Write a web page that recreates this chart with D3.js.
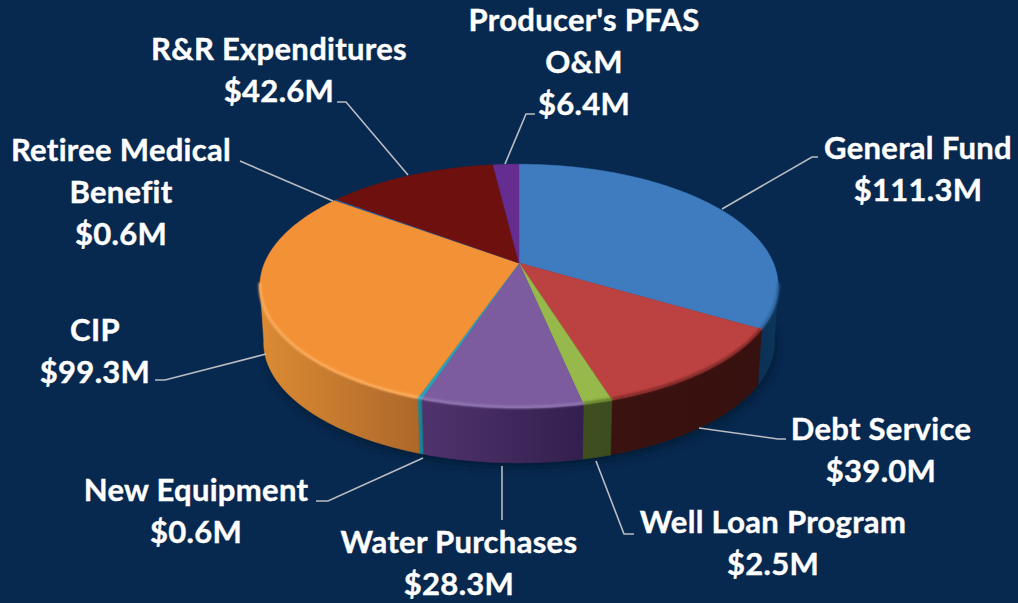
<!DOCTYPE html>
<html><head><meta charset="utf-8">
<script src="https://cdnjs.cloudflare.com/ajax/libs/d3/7.8.5/d3.min.js"></script>
<style>html,body{margin:0;padding:0;background:#08294f}svg{display:block}</style></head>
<body><svg id="c" width="1018" height="603"></svg>
<script>
const categories=["General Fund","Debt Service","Well Loan Program","Water Purchases","New Equipment","CIP","Retiree Medical Benefit","R&R Expenditures","Producer's PFAS O&M"];
const valueLabels=["$111.3M","$39.0M","$2.5M","$28.3M","$0.6M","$99.3M","$0.6M","$42.6M","$6.4M"];
// slice sizes as they are drawn in the picture (estimated from the slice edges, $M)
const values=[110.7,38.6,5.05,27.7,0.73,98.5,0.55,42.3,6.4];
const topColors=["#3f7cbf","#bb4240","#97b84a","#7c5c9e","#2ca1b8","#f39136","#2f5f9c","#6e100e","#652d8f"];
const wallLeft=["#0b3154","#3a1210","#3f4f20","#50336c","#1d8a9c","#dc8b33","#1d3f70","#3a0a08","#3a1a50"];
const wallRight=["#0d365c","#37110f","#3d4c1f","#331f4f","#1a8090","#ad682a","#1d3f70","#3a0a08","#3a1a50"];
const bevel=["#2a5f96","#7c2826","#5d7a2a","#9379b4","#40bcd2","#fdb163","#2f5f9c","#6e100e","#652d8f"];
const labelLines=[["General Fund"],["Debt Service"],["Well Loan Program"],["Water Purchases"],["New Equipment"],["CIP"],["Retiree Medical","Benefit"],["R&R Expenditures"],["Producer's PFAS","O&M"]];
const labelX=[918,881,773,459,196,95,121,279,584];
const labelY=[149,430,523,543,491,331,151,50,21];
const leaders=[[[722,209],[812,157],[818,157]],[[699,428],[778,439],[786,439]],[[596,461],[624,534],[634,534]],[[502,466],[502,520]],[[423,458],[328,501],[316,501]],[[266,354],[165,380],[155,380]],[[333,201],[240,161]],[[408,175],[346,102],[337,102]],[[505,164],[526,114],[535,114]]];

const svg=d3.select("#c");
const W=1018,H=603;
svg.append("rect").attr("width",W).attr("height",H).attr("fill","#08294f");
const defs=svg.append("defs");
defs.append("filter").attr("id","blur").attr("x","-20%").attr("y","-20%").attr("width","140%").attr("height","140%")
  .append("feGaussianBlur").attr("stdDeviation",4);
defs.append("filter").attr("id","soft").attr("x","-5%").attr("y","-5%").attr("width","110%").attr("height","110%")
  .append("feGaussianBlur").attr("stdDeviation",1);

const Ax=519,Ay=263,Rx=254.4,Ry=117.5,k=0.19,depth=57,bottomScale=0.985,bottomYScale=0.985;
function proj(a,r=1){const x=Math.sin(a)*r,z=-Math.cos(a)*r,w=1-k*z;return [Ax+Rx*x/w,Ay+Ry*z/w];}
function projB(a,r=1){const p=proj(a,r);return [Ax+(p[0]-Ax)*bottomScale,Ay+depth+(p[1]-Ay)*bottomYScale];}
const pie=d3.pie().sort(null).value(d=>d)(values);
const line=d3.line();
const visible=a=>-Math.cos(a)>k-0.02;
function samples(s,e){const n=Math.max(2,Math.ceil((e-s)/0.01));return d3.range(n+1).map(i=>s+(e-s)*i/n);}

const allA=samples(0,2*Math.PI);
svg.append("path").attr("d",line(allA.map(a=>{const p=projB(a);return [p[0]+2,p[1]+5];}))+"Z")
  .attr("fill","#031a35").attr("opacity",0.85).attr("filter","url(#blur)");

const walls=svg.append("g");
pie.forEach((d,i)=>{
  const as=samples(d.startAngle,d.endAngle).filter(visible);
  if(as.length<2)return;
  const id="w"+i,x0=proj(as[0])[0],x1=proj(as[as.length-1])[0];
  const g=defs.append("linearGradient").attr("id",id).attr("gradientUnits","userSpaceOnUse")
    .attr("x1",Math.min(x0,x1)).attr("x2",Math.max(x0,x1)).attr("y1",0).attr("y2",0);
  g.append("stop").attr("offset",0).attr("stop-color",wallLeft[i]);
  g.append("stop").attr("offset",1).attr("stop-color",wallRight[i]);
  const pts=as.map(a=>proj(a)).concat(as.slice().reverse().map(a=>projB(a)));
  walls.append("path").attr("d",line(pts)+"Z").attr("fill",`url(#${id})`).attr("stroke",`url(#${id})`).attr("stroke-width",0.6);
});

const tops=svg.append("g");
pie.forEach((d,i)=>{
  const pts=[[Ax,Ay]].concat(samples(d.startAngle,d.endAngle).map(a=>proj(a)));
  tops.append("path").attr("d",line(pts)+"Z").attr("fill",topColors[i]).attr("stroke",topColors[i]).attr("stroke-width",0.5);
});
const rim=svg.append("g").attr("filter","url(#soft)");
pie.forEach((d,i)=>{
  const as=samples(d.startAngle,d.endAngle).filter(visible);
  if(as.length<2)return;
  rim.append("path").attr("d",line(as.map(a=>{const p=proj(a);return [p[0],p[1]-1];}))).attr("fill","none").attr("stroke",bevel[i]).attr("stroke-width",2.5);
});

svg.append("g").selectAll("path").data(leaders).join("path")
  .attr("d",d=>line(d)).attr("fill","none").attr("stroke","#b9bcc2").attr("stroke-width",1.6);

const lh=42;
const lab=svg.append("g").attr("font-family","Lato, sans-serif").attr("font-weight",700).attr("font-size",31)
  .attr("letter-spacing",0.3).attr("fill","#ffffff").attr("stroke","#ffffff").attr("stroke-width",0.4).attr("text-anchor","middle");
categories.forEach((c,i)=>{
  labelLines[i].concat([valueLabels[i]]).forEach((l,j)=>lab.append("text").attr("x",labelX[i]).attr("y",labelY[i]+lh*j+10).text(l));
});
</script></body></html>
